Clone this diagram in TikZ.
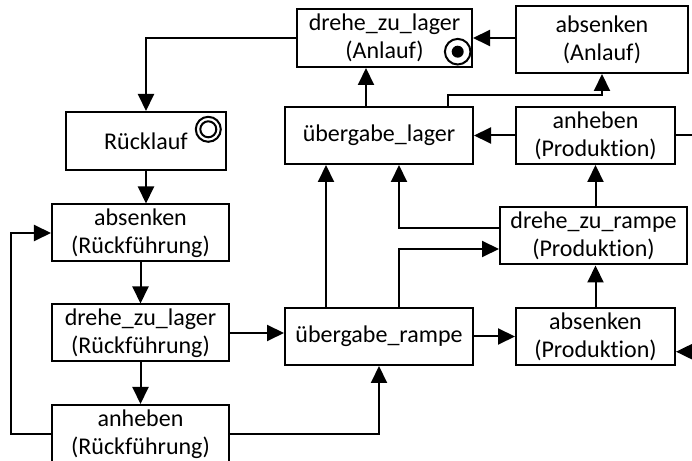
\documentclass[tikz,border=0pt]{standalone}
\usepackage{fontspec}
\setmainfont{Carlito}[Ligatures=NoCommon]
\usetikzlibrary{calc,positioning}
\usetikzlibrary{arrows.meta}
\tikzset{>={Triangle[width=8bp,length=8.5bp]}}

\begin{document}
\begin{tikzpicture}[x=0.5bp,y=-0.5bp]
        \begin{scope}[line width=1bp]

          \tikzstyle{bnode} = [draw=black, rectangle, inner sep = 0pt, minimum height=28.5bp, align=center, font=\fontsize{12bp}{14bp}\selectfont]
          \tikzstyle{snode} = [draw=black, circle, inner sep = 0pt]
          \useasboundingbox (0,0) rectangle (692,461);

          \node[bnode, minimum width=87.5bp, minimum height=29bp] (dzlA) at (384.5,38) {drehe\_zu\_lager\\(Anlauf)};
          \node[bnode, minimum width=86bp, minimum height=33.5bp] (absA) at (602,39.5) {absenken\\(Anlauf)};

          \node[bnode, minimum width=80bp, minimum height=29bp] (rueck) at (146,141) {Rücklauf};
          \node[bnode, minimum width=88.5bp] (absR) at (140.5,233) {absenken\\(Rückführung)};
          \node[bnode, minimum width=88.5bp] (dzlR) at (140.5,333) {drehe\_zu\_lager\\(Rückführung)};
          \node[bnode, minimum width=88.5bp, minimum height=29bp] (anhR) at (140.5,434) {anheben\\(Rückführung)};

          \node[bnode, minimum width=94bp] (uebL) at (379,135.5) {übergabe\_lager};
          \node[bnode, minimum width=94bp] (uebR) at (379,336.5) {übergabe\_rampe};

          \node[bnode, minimum width=79.5bp] (anhP) at (595.5,135.5) {anheben\\(Produktion)};
          \node[bnode, minimum width=93.5bp] (dzrP) at (593.5,236) {drehe\_zu\_rampe\\(Produktion)};
          \node[bnode, minimum width=79.5bp] (absP) at (595.5,336.5) {absenken\\(Produktion)};

          % start and end marks
          \node[snode, minimum size=12.8bp] (start) at (457.7,51.7) {};
          \node[circle, fill=black, inner sep=0pt, minimum size=6bp] (startdot) at (start.center) {};
          \node[snode, minimum size=12.5bp] (ende) at (208.3,129.3) {};
          \node[snode, minimum size=8bp] (endein) at (ende.center) {};

          \coordinate (rA) at (692,135.5);
          \coordinate (rB) at (692,351.7);

          \draw[->] (dzlA.west) -| (rueck.north);
          \draw[->] (absA.west |- dzlA.east) -- (dzlA.east);

          \draw[->] ($(uebL.north)+(-13,0)$) -- ($(dzlA.south)+(-18.5,0)$);
          \draw[->] ($(uebL.north)+(69,0)$) -- ++(0,-11) -| (absA.south);

          \draw[->] (anhP.west) -- (uebL.east);
          \draw[-] (anhP.east) -- (rA);

          \draw[->] (dzrP.north -| anhP.south) -- (anhP.south);
          \draw[->] ($(dzrP.west)+(0,-8.3)$) -| ($(uebL.south)+(20,0)$);
          \draw[->] ($(uebR.north)+(20,0)$) |- ($(dzrP.west)+(0,13)$);
          \draw[->] ($(uebR.north)+(-53,0)$) -- ($(uebL.south)+(-53,0)$);

          \draw[->] (absP.north) -- (absP.north |- dzrP.south);
          \draw[->] (uebR.east) -- (absP.west);
          \draw[->] (rB) -- (rB -| absP.east);

          \draw[->] (rueck.south) -- (rueck.south |- absR.north);
          \draw[->] (absR.south) -- (dzlR.north);
          \draw[->] (dzlR.south) -- (anhR.north);

          \draw[->] (dzlR.east) -- (dzlR.east -| uebR.west);
          \draw[->] (anhR.east) -| (uebR.south);
          \draw[->] (anhR.west) -- ++(-40,0) |- (absR.west);

        \end{scope}
      \end{tikzpicture}
\end{document}
